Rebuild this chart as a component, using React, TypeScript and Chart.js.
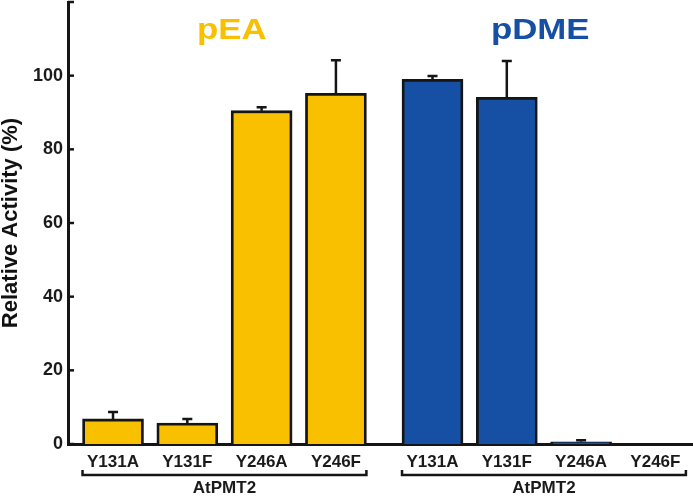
import React, { useEffect, useRef } from "react";
import { Chart, registerables } from "chart.js";

Chart.register(...registerables);

const categories = ["Y131A", "Y131F", "Y246A", "Y246F", "Y131A", "Y131F", "Y246A", "Y246F"];
const pEAPositions = [0, 1, 2, 3];
const pDMEPositions = [4.3, 5.3, 6.3, 7.3];
const pEAValues = [6.8, 5.7, 90.5, 95.2];
const pEAErrors = [1.9, 1.1, 0.9, 9.0];
const pDMEValues = [99.0, 94.1, 0.6, 0];
const pDMEErrors = [0.9, 9.9, 0.4, 0];
const yTicks = [0, 20, 40, 60, 80, 100, 120];
const groupLabel = "AtPMT2";
const seriesNames = ["pEA", "pDME"];

const YELLOW = "#F9C000";
const BLUE = "#1550A5";
const INK = "#151515";
const BAR_W = 61;
const FONT = "Arial, 'Liberation Sans', sans-serif";

export default function App() {
  const ref = useRef<HTMLCanvasElement | null>(null);

  useEffect(() => {
    if (!ref.current) return;
    const allPositions = [...pEAPositions, ...pDMEPositions];

    const decor = {
      id: "decor",
      afterDatasetsDraw(chart: any) {
        const ctx = chart.ctx;
        const xs = chart.scales.x;
        const ys = chart.scales.y;
        ctx.save();
        const errs = [pEAErrors, pDMEErrors];
        chart.data.datasets.forEach((ds: any, di: number) => {
          ds.data.forEach((pt: any, i: number) => {
            const e = errs[di][i];
            if (!e) return;
            const x = xs.getPixelForValue(pt.x);
            const y0 = ys.getPixelForValue(pt.y);
            const y1 = ys.getPixelForValue(pt.y + e);
            ctx.strokeStyle = INK;
            ctx.lineWidth = 2.5;
            ctx.beginPath();
            ctx.moveTo(x, y0);
            ctx.lineTo(x, y1);
            ctx.moveTo(x - 5, y1);
            ctx.lineTo(x + 5, y1);
            ctx.stroke();
          });
        });
        const left = chart.chartArea.left;
        ctx.strokeStyle = INK;
        ctx.lineWidth = 2.5;
        yTicks.forEach((v) => {
          const y = ys.getPixelForValue(v);
          ctx.beginPath();
          ctx.moveTo(left, y);
          ctx.lineTo(left + 6, y);
          ctx.stroke();
        });
        const groups = [pEAPositions, pDMEPositions];
        const bracketY = 475;
        groups.forEach((g) => {
          const l = xs.getPixelForValue(g[0]) - BAR_W / 2;
          const r = xs.getPixelForValue(g[g.length - 1]) + BAR_W / 2;
          ctx.beginPath();
          ctx.lineWidth = 2.5;
          ctx.moveTo(l, bracketY - 5);
          ctx.lineTo(l, bracketY);
          ctx.lineTo(r, bracketY);
          ctx.lineTo(r, bracketY - 5);
          ctx.stroke();
          ctx.fillStyle = "#1a1a1a";
          ctx.font = "bold 17px " + FONT;
          ctx.textAlign = "center";
          ctx.textBaseline = "middle";
          ctx.fillText(groupLabel, (l + r) / 2, 488);
        });
        const titleColors = [YELLOW, BLUE];
        const titlePos = [1.6, 5.75];
        seriesNames.forEach((name, i) => {
          const x = xs.getPixelForValue(titlePos[i]);
          const y = ys.getPixelForValue(112);
          ctx.save();
          ctx.translate(x, y);
          ctx.scale(1.2, 1);
          ctx.fillStyle = titleColors[i];
          ctx.font = "bold 29px " + FONT;
          ctx.textAlign = "center";
          ctx.textBaseline = "middle";
          ctx.fillText(name, 0, 0);
          ctx.restore();
        });
        ctx.restore();
      },
    };

    const chart = new Chart(ref.current, {
      type: "bar",
      data: {
        datasets: [
          {
            label: seriesNames[0],
            data: pEAPositions.map((x, i) => ({ x, y: pEAValues[i] })),
            backgroundColor: YELLOW,
            borderColor: INK,
            borderWidth: 2.8,
            barThickness: BAR_W,
            grouped: false,
          } as any,
          {
            label: seriesNames[1],
            data: pDMEPositions.map((x, i) => ({ x, y: pDMEValues[i] })),
            backgroundColor: BLUE,
            borderColor: INK,
            borderWidth: 2.8,
            barThickness: BAR_W,
            grouped: false,
          } as any,
        ],
      },
      options: {
        animation: false,
        responsive: true,
        maintainAspectRatio: false,
        layout: { padding: { top: 2, right: 0, left: 0, bottom: 0 } },
        plugins: { legend: { display: false }, tooltip: { enabled: false } },
        scales: {
          x: {
            type: "linear",
            min: -0.606,
            max: 7.806,
            offset: false,
            grid: { display: false, drawTicks: false },
            border: { display: true, color: INK, width: 3 },
            afterBuildTicks: (scale: any) => {
              scale.ticks = allPositions.map((v) => ({ value: v }));
            },
            afterFit: (scale: any) => {
              scale.height = 52;
              scale.paddingLeft = 0;
              scale.paddingRight = 0;
            },
            ticks: {
              autoSkip: false,
              maxRotation: 0,
              padding: 8,
              color: "#1a1a1a",
              font: { family: FONT, size: 17, weight: "bold" },
              callback: (_v: any, i: number) => categories[i],
            },
          },
          y: {
            min: 0,
            max: 120,
            grid: { display: false, drawTicks: false },
            border: { display: true, color: INK, width: 3 },
            afterBuildTicks: (scale: any) => {
              scale.ticks = yTicks.map((v) => ({ value: v }));
            },
            afterFit: (scale: any) => {
              scale.width = 68;
              scale.paddingTop = 0;
              scale.paddingBottom = 0;
            },
            ticks: {
              padding: 5,
              color: "#1a1a1a",
              font: { family: FONT, size: 18, weight: "bold" },
              callback: (v: any) => (Number(v) === 120 ? "" : String(v)),
            },
            title: {
              display: true,
              text: "Relative Activity (%)",
              color: "#111",
              padding: 0,
              font: { family: FONT, size: 22, weight: "bold", lineHeight: 1 },
            },
          },
        },
      },
      plugins: [decor],
    });
    return () => chart.destroy();
  }, []);

  return (
    <div style={{ position: "absolute", left: 0, top: 0, width: 693, height: 496, background: "#fff" }}>
      <canvas ref={ref} />
    </div>
  );
}
